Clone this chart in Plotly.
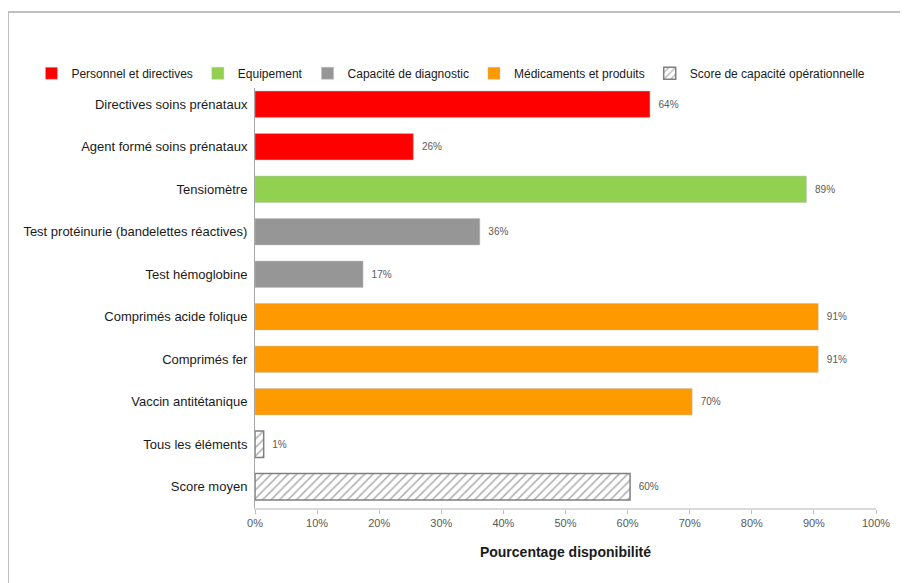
import plotly.graph_objects as go

# categories (top to bottom) and values in %
categories = ["Directives soins prénataux", "Agent formé soins prénataux", "Tensiomètre",
              "Test protéinurie (bandelettes réactives)", "Test hémoglobine",
              "Comprimés acide folique", "Comprimés fer", "Vaccin antitétanique",
              "Tous les éléments", "Score moyen"]
values = [63.6, 25.5, 88.8, 36.2, 17.4, 90.7, 90.7, 70.4, 1.4, 60.4]
labels = ["64%", "26%", "89%", "36%", "17%", "91%", "91%", "70%", "1%", "60%"]

groups = ["Personnel et directives", "Equipement", "Capacité de diagnostic",
          "Médicaments et produits", "Score de capacité opérationnelle"]
group_of = [0, 0, 1, 2, 2, 3, 3, 3, 4, 4]
colors = ["#FF0000", "#92D050", "#969696", "#FF9900", "#FFFFFF"]

font = "Liberation Sans, Arial"

fig = go.Figure()
for g, name in enumerate(groups):
    idx = [i for i, k in enumerate(group_of) if k == g]
    marker = dict(color=colors[g], line=dict(color="#BFBFBF", width=0.5))
    if g == 4:
        marker = dict(color="#FFFFFF", line=dict(color="#7F7F7F", width=1.5),
                      pattern=dict(shape="/", fgcolor="#595959", bgcolor="#FFFFFF",
                                   size=6, solidity=0.25))
    fig.add_trace(go.Bar(
        y=[categories[i] for i in idx], x=[values[i] for i in idx],
        orientation="h", name=name, marker=marker, width=0.62,
        text=["  " + labels[i] for i in idx], textposition="outside",
        textfont=dict(size=10, color="#595959", family=font),
        cliponaxis=False,
    ))

fig.update_layout(
    width=908, height=583,
    margin=dict(l=247, r=40, t=75, b=83, autoexpand=False),
    paper_bgcolor="white", plot_bgcolor="white",
    barmode="relative",
    font=dict(family=font, size=13, color="#1A1A1A"),
    showlegend=True,
    legend=dict(orientation="h", x=-0.36, xanchor="left", y=1.057, yanchor="top",
                font=dict(size=12, color="#1A1A1A"), traceorder="normal",
                itemwidth=30, tracegroupgap=0),
    xaxis=dict(range=[0, 100], tickvals=list(range(0, 101, 10)),
               ticktext=[f"{v}%" for v in range(0, 101, 10)],
               showgrid=False, zeroline=False, showline=True, linecolor="#D9D9D9", linewidth=2,
               ticks="outside", ticklen=4, tickcolor="#BFBFBF",
               tickfont=dict(size=11, color="#595959"), automargin=False,
               title=dict(text="<b>Pourcentage disponibilité</b>", font=dict(size=14, color="#1A1A1A"),
                          standoff=19)),
    yaxis=dict(categoryorder="array", categoryarray=categories, autorange="reversed",
               showgrid=False, showline=True, linecolor="#A6A6A6", linewidth=1,
               ticks="", ticklabelstandoff=4, automargin=False,
               tickfont=dict(size=13, color="#1A1A1A")),
    shapes=[dict(type="rect", xref="paper", yref="paper",
                 x0=-247 / 621, x1=1 + 27 / 621, y0=-85 / 425, y1=1 + 71 / 425,
                 line=dict(color="#BFBFBF", width=2), fillcolor="rgba(0,0,0,0)", layer="below")],
)

fig.write_html("out.html")
